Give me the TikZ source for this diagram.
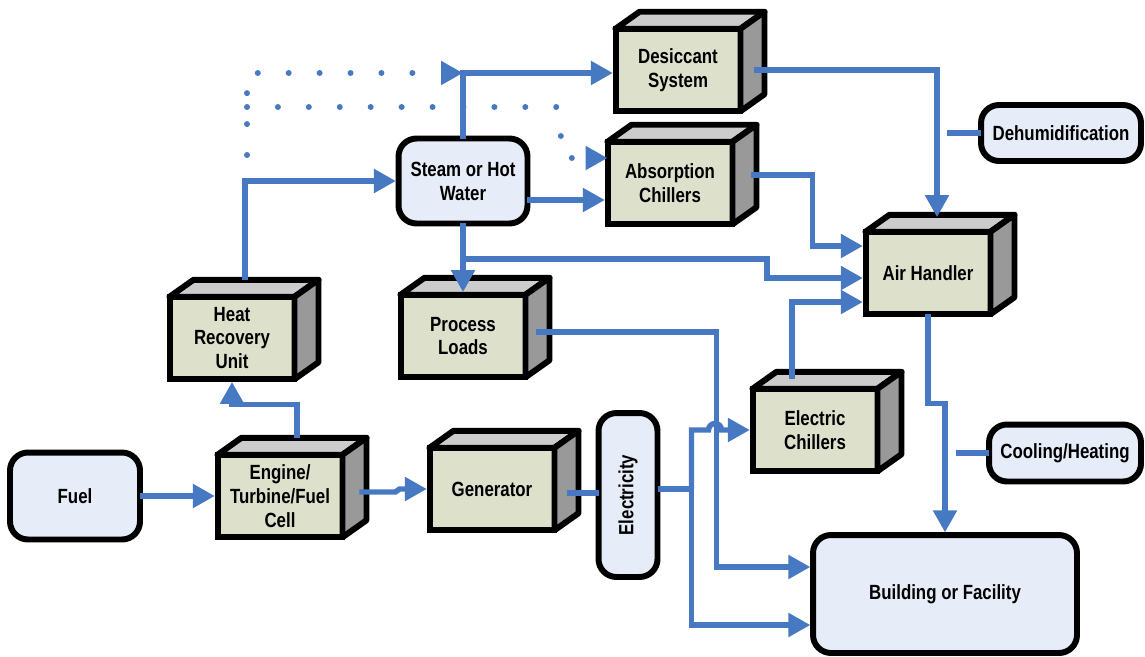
\documentclass[tikz,border=0pt]{standalone}
\usepackage{fontspec}
\usepackage{graphicx}
\setmainfont{Liberation Sans}[FakeStretch=0.82]
\usetikzlibrary{arrows.meta,calc}
\definecolor{flowblue}{RGB}{71,121,194}
\definecolor{unitgreen}{RGB}{221,225,204}
\definecolor{topgray}{RGB}{204,204,204}
\definecolor{sidegray}{RGB}{153,153,153}
\definecolor{termblue}{RGB}{230,237,248}
\begin{document}
\begin{tikzpicture}[x=0.02cm,y=-0.02cm,
  unit/.style = {rectangle,draw,line width=3.4pt,fill=unitgreen,minimum width=2.5cm,minimum height=1.65cm,outer sep=0pt,align=center,font=\bfseries\fontsize{11.7}{13.6}\selectfont},
  term/.style = {rectangle,rounded corners=0.36cm,draw,line width=3.4pt,fill=termblue,outer sep=0pt,align=center,font=\bfseries\fontsize{11.7}{13.6}\selectfont},
  face/.style = {draw,line width=3.4pt,line join=round},
  link/.style = {draw=flowblue,line width=3.1pt},
  flow/.style = {link,-{Triangle[length=12.5pt,width=13pt]},shorten >=1.5pt},
  dots/.style = {draw=flowblue,line width=3.4pt,line cap=round,dash pattern=on 0pt off 17.6pt,-{Triangle[length=12.5pt,width=13pt]}}]
\useasboundingbox (0,0) rectangle (1145,656);
\node[unit] (heat) at (232,338) {Heat\\Recovery\\Unit};
\node[unit] (engine) at (280,496) {Engine/\\Turbine/Fuel\\Cell};
\node[unit] (gen) at (492,489) {Generator};
\node[unit] (process) at (463,336) {Process\\Loads};
\node[unit] (echill) at (815,430) {Electric\\Chillers};
\node[unit] (desic) at (678,70) {Desiccant\\System};
\node[unit] (absorb) at (670,183) {Absorption\\Chillers};
\node[unit] (air) at (928,273) {Air Handler};
\foreach \n in {heat,engine,gen,process,echill,desic,absorb,air} {
  \draw[face,fill=topgray] (\n.north west) -- ++(24,-17) -- ($(\n.north east)+(24,-17)$) -- (\n.north east) -- cycle;
  \draw[face,fill=sidegray] (\n.north east) -- ++(24,-17) -- ($(\n.south east)+(24,-17)$) -- (\n.south east) -- cycle;
}
\node[term,minimum width=2.6cm,minimum height=1.74cm] (fuel) at (75,496) {Fuel};
\node[term,minimum width=2.58cm,minimum height=1.7cm] (steam) at (463,181) {Steam or Hot\\Water};
\node[term,minimum width=1.18cm,minimum height=3.28cm] (elec) at (628,495) {\rotatebox{90}{Electricity}};
\node[term,minimum width=3.2cm,minimum height=1.12cm] (dehum) at (1061,133) {Dehumidification};
\node[term,minimum width=3.04cm,minimum height=1.14cm] (cool) at (1065,453) {Cooling/Heating};
\node[term,minimum width=5.28cm,minimum height=2.36cm] (build) at (945,594) {Building or Facility};
\coordinate (dotstart) at (247,155);
\coordinate (dotmid) at (247,107);
\coordinate (dotbend) at (558,107);
\coordinate (branch) at ($(steam.south)!0.5!(process.north)$);
\coordinate (ejoin) at ($(elec.east)+(34,-6)$);
\coordinate (desicin) at ($(desic.west)+(0,3)$);
\draw[dots] (dotstart) |- (steam.north |- desicin);
\draw[dots] (dotmid) -- (dotbend) -- ++(5,51) -- ($(absorb.west)+(0,-25)$);
\draw[flow] (fuel) -- (engine);
\draw[flow] ($(engine.north)+(17,-17)$) -- ++(0,-33) -| (heat.south);
\draw[flow] ($(engine.east)+(17,-4)$) -- ++(36,0) -- ++(4,-3) -- (gen.west);
\draw[flow] ($(heat.north)+(13,-17)$) |- (steam.west);
\draw[flow] (steam.north) |- (desicin);
\draw[flow] ($(steam.east)+(0,19)$) -- ($(absorb.west)+(0,17)$);
\draw[flow] (steam.south) -- (process.north);
\draw[flow] (branch) -- ++(304,0) |- ($(air.west)+(0,5)$);
\draw[flow] ($(absorb.east)+(18,-8)$) -- ++(62,0) |- ($(air.west)+(0,-27)$);
\draw[flow] ($(echill.north)+(-23,-10)$) |- ($(air.west)+(0,29)$);
\draw[flow] ($(desic.east)+(13,0)$) -| ($(air.north)+(9,-12)$);
\draw[link] (dehum.west) -- ++(-34,0);
\draw[flow] (air.south) -- ++(0,89) -| (build.north);
\draw[link] (cool.west) -- ++(-33,0);
\draw[link] ($(gen.east)+(13,4)$) -- ($(elec.west)+(0,-2)$);
\draw[link] ($(elec.east)+(0,-6)$) -- (ejoin);
\draw[flow] ($(process.east)+(11,-4)$) -- ++(180,0) |- ($(build.west)+(0,-27)$);
\draw[flow] (ejoin) |- ($(build.west)+(0,31)$);
\draw[flow] (ejoin) |- ($(echill.west)+(-44,0)$) arc[start angle=180,end angle=0,radius=0.13cm] -- (echill.west);
\end{tikzpicture}
\end{document}
